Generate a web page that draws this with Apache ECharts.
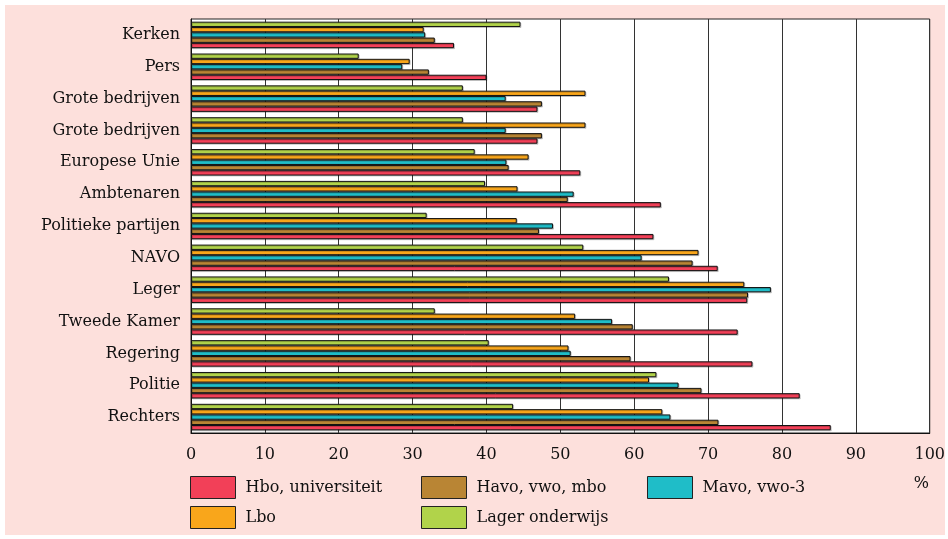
<!DOCTYPE html>
<html>
<head>
<meta charset="utf-8">
<script src="https://cdn.jsdelivr.net/npm/echarts@6/dist/echarts.min.js"></script>
<style>
html,body{margin:0;padding:0;background:#fff;}
#c{width:948px;height:539px;}
</style>
</head>
<body>
<div id="c"></div>
<script>
const categories = ['Kerken','Pers','Grote bedrijven','Grote bedrijven','Europese Unie','Ambtenaren','Politieke partijen','NAVO','Leger','Tweede Kamer','Regering','Politie','Rechters'];
const lagerOnderwijs = [44.6, 22.7, 36.8, 36.8, 38.4, 39.8, 31.9, 53.1, 64.7, 33.0, 40.3, 63.0, 43.6];
const lbo            = [31.5, 29.6, 53.4, 53.4, 45.7, 44.2, 44.1, 68.7, 74.9, 52.0, 51.1, 62.0, 63.8];
const mavo           = [31.7, 28.6, 42.6, 42.6, 42.7, 51.8, 49.0, 61.0, 78.5, 57.0, 51.4, 66.0, 64.9];
const havo           = [33.0, 32.2, 47.5, 47.5, 43.0, 51.0, 47.1, 67.9, 75.4, 59.8, 59.5, 69.1, 71.4];
const hbo            = [35.6, 40.0, 46.9, 46.9, 52.7, 63.6, 62.6, 71.3, 75.3, 74.0, 76.0, 82.4, 86.6];
const xTicks = [0,10,20,30,40,50,60,70,80,90,100];

const FONT = 'DejaVu Serif';
const colors = {hbo:'#f24058', havo:'#b98534', mavo:'#1fbdc8', lbo:'#f9a61b', lager:'#b1d34a'};

function mkSeries(name, data, color){
  return {
    name: name, type: 'bar', data: data,
    barWidth: 5.3, barGap: '0%',
    itemStyle: {color: color, borderColor: '#111', borderWidth: 1,
      shadowColor: 'rgba(0,0,0,0.18)', shadowOffsetX: 1, shadowOffsetY: 1, shadowBlur: 0},
    emphasis: {disabled: true}
  };
}
function mkLegend(name, left, top){
  return {
    data: [name], left: left, top: top, orient: 'horizontal', padding: 0,
    itemWidth: 45, itemHeight: 22, icon: 'rect',
    itemStyle: {borderColor: '#222', borderWidth: 1, shadowBlur: 0, shadowOffsetX: 0, shadowOffsetY: 0, shadowColor: 'transparent'},
    textStyle: {fontFamily: FONT, fontSize: 16, color: '#111', padding: [0,0,0,5]},
    selectedMode: false
  };
}

const chart = echarts.init(document.getElementById('c'), null, {renderer: 'canvas'});
chart.setOption({
  backgroundColor: '#ffffff',
  animation: false,
  graphic: [{type: 'rect', shape: {x: 5, y: 5, width: 940, height: 530}, style: {fill: '#fde0dc'}, z: -10, silent: true}],
  grid: {left: 191, right: 17, top: 19, bottom: 106, show: true, backgroundColor: '#ffffff', borderColor: '#222', borderWidth: 1},
  xAxis: {
    type: 'value', min: 0, max: 100, interval: 10,
    axisLine: {show: true, lineStyle: {color: '#111'}},
    axisTick: {show: false},
    axisLabel: {fontFamily: FONT, fontSize: 16, color: '#111', margin: 14,
      formatter: function(v){ return xTicks.indexOf(v) >= 0 ? String(v) : ''; }},
    splitLine: {show: true, lineStyle: {color: '#333', width: 1}}
  },
  yAxis: {
    type: 'category', inverse: true,
    data: categories.map(function(c, i){ return String(i); }),
    axisLine: {show: true, lineStyle: {color: '#111'}},
    axisTick: {show: false},
    axisLabel: {fontFamily: FONT, fontSize: 16, color: '#111', margin: 11,
      formatter: function(v, i){ return categories[+v]; }}
  },
  legend: [
    mkLegend('Hbo, universiteit', 190, 476),
    mkLegend('Havo, vwo, mbo', 421, 476),
    mkLegend('Mavo, vwo-3', 647, 476),
    mkLegend('Lbo', 190, 506),
    mkLegend('Lager onderwijs', 421, 506)
  ],
  title: {text: '%', right: 14, top: 471, textStyle: {fontFamily: FONT, fontSize: 16, fontWeight: 'normal', color: '#111'}},
  series: [
    mkSeries('Lager onderwijs', lagerOnderwijs, colors.lager),
    mkSeries('Lbo', lbo, colors.lbo),
    mkSeries('Mavo, vwo-3', mavo, colors.mavo),
    mkSeries('Havo, vwo, mbo', havo, colors.havo),
    mkSeries('Hbo, universiteit', hbo, colors.hbo)
  ]
});
</script>
</body>
</html>
